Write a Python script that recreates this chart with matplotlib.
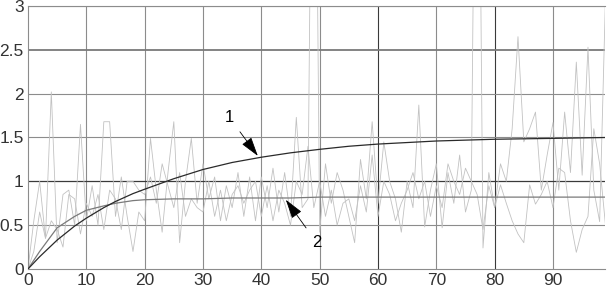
import matplotlib
matplotlib.use("Agg")
import matplotlib.pyplot as plt

# --------------------------------------------------
# DATA
# --------------------------------------------------

x = list(range(100))

noise_a = [0, 0.55, 1.0, 0.35, 2.02, 0.3, 0.85, 0.9, 0.5, 1.65,
           0.55, 0.95, 0.5, 1.68, 1.68, 0.6, 1.05, 0.6, 0.2, 0.65,
           0.55, 1.49, 0.9, 0.42, 1.1, 1.68, 0.3, 1.0, 1.49, 0.75,
           1.2, 0.8, 1.05, 0.55, 0.95, 0.7, 1.1, 0.6, 1.05, 0.55,
           1.05, 0.7, 1.15, 0.65, 1.1, 0.6, 1.73, 0.7, 0.8, 8.0,
           0.42, 1.2, 0.75, 1.1, 0.9, 0.6, 0.3, 1.25, 0.8, 1.68,
           0.75, 1.45, 1.0, 0.8, 0.42, 1.0, 0.7, 1.87, 0.48, 0.9,
           1.2, 0.47, 1.1, 0.75, 1.3, 0.65, 0.9, 8.0, 0.24, 1.1,
           0.7, 1.2, 1.0, 1.6, 2.65, 1.45, 1.6, 1.79, 0.9, 1.3,
           1.67, 0.9, 1.79, 1.1, 2.36, 1.07, 2.53, 0.9, 0.54, 3.1]

noise_b = [0, 0.2, 0.65, 0.35, 0.55, 0.45, 0.25, 0.85, 0.8, 0.4,
           0.75, 0.6, 0.85, 0.45, 0.9, 0.8, 0.45, 1.0, 1.0, 0.9,
           0.85, 1.05, 0.75, 1.2, 0.95, 0.7, 1.1, 0.6, 0.8, 0.7,
           0.65, 1.0, 0.6, 0.9, 0.55, 0.85, 0.95, 0.75, 0.9, 1.0,
           0.6, 0.95, 0.55, 0.9, 0.75, 0.5, 1.0, 0.85, 1.4, 0.7,
           1.0, 0.6, 0.9, 0.5, 0.75, 0.8, 0.55, 0.95, 0.65, 1.3,
           0.6, 1.0, 0.85, 0.55, 0.75, 0.9, 1.1, 0.8, 1.0, 0.6,
           0.95, 0.7, 1.2, 1.0, 0.85, 1.15, 1.0, 0.85, 0.45, 0.95,
           0.7, 0.96, 0.75, 0.55, 0.4, 0.3, 0.96, 0.74, 0.85, 1.0,
           0.7, 1.15, 1.1, 0.55, 0.19, 0.45, 0.6, 1.6, 1.2, 0.5]

curve_x = [0, 2, 5, 8, 10, 13, 15, 18, 20, 25, 30, 35, 40, 45, 50,
           55, 60, 70, 80, 90, 99]
curve_1 = [0, 0.14, 0.33, 0.49, 0.58, 0.70, 0.77, 0.86, 0.91, 1.03,
           1.135, 1.215, 1.275, 1.325, 1.365, 1.40, 1.425, 1.46, 1.48,
           1.49, 1.50]
curve_2 = [0, 0.20, 0.47, 0.60, 0.67, 0.72, 0.75, 0.78, 0.79, 0.80,
           0.80, 0.81, 0.81, 0.81, 0.82, 0.82, 0.82, 0.82, 0.82,
           0.82, 0.82]

x_ticks = [0, 10, 20, 30, 40, 50, 60, 70, 80, 90]
y_ticks = [0, 0.5, 1, 1.5, 2, 2.5, 3]
y_tick_labels = ["0", "0.5", "1", "1.5", "2", "2.5", "3"]

# --------------------------------------------------
# FIGURE
# --------------------------------------------------

plt.rcParams["font.family"] = ["Liberation Sans", "DejaVu Sans"]

fig = plt.figure(figsize=(6.07, 2.91), dpi=100)
ax = fig.add_axes([0.0461, 0.0756, 0.9514, 0.9038])

# grid
for gx in x_ticks[1:]:
    dark = gx in (60, 80)
    ax.axvline(gx, color="#3a3a3a" if dark else "#8c8c8c", lw=0.8, zorder=0)
for gy in y_ticks[1:]:
    if gy == 1:
        ax.axhline(gy, color="#3a3a3a", lw=0.9, zorder=0)
    elif gy == 2.5:
        ax.axhline(gy, color="#7a7a7a", lw=1.3, zorder=0)
    else:
        ax.axhline(gy, color="#8c8c8c", lw=0.8, zorder=0)

# series
ax.plot(x, noise_b, color="#c2c2c2", lw=0.6, zorder=2)
ax.plot(x, noise_a, color="#c2c2c2", lw=0.6, zorder=2)
ax.plot(curve_x, curve_2, color="#7a7a7a", lw=0.9, zorder=3)
ax.plot(curve_x, curve_1, color="#2a2a2a", lw=0.9, zorder=3)

# labels with arrows
arrow = dict(arrowstyle="-|>,head_length=0.6,head_width=0.18",
             color="black", lw=0.6, mutation_scale=20, shrinkA=4, shrinkB=0)
ax.annotate("1", xy=(39.4, 1.29), xytext=(34.5, 1.73),
            fontsize=12, ha="center", va="center", arrowprops=arrow)
ax.annotate("2", xy=(44.2, 0.79), xytext=(49.5, 0.30),
            fontsize=12, ha="center", va="center", arrowprops=arrow)

ax.set_xlim(0, 99)
ax.set_ylim(0, 3)
ax.set_xticks(x_ticks)
ax.set_yticks(y_ticks)
ax.set_yticklabels(y_tick_labels)
ax.tick_params(length=0, labelsize=12.5, colors="#333333", pad=3)

for side in ("left", "bottom", "top"):
    ax.spines[side].set_color("#8c8c8c")
    ax.spines[side].set_linewidth(0.8)
ax.spines["right"].set_visible(False)

fig.savefig("out.png", dpi=100)
